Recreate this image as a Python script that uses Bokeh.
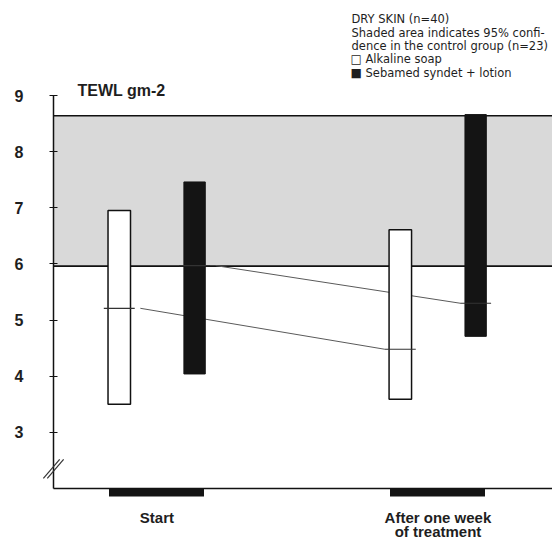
from bokeh.plotting import figure
from bokeh.models import Range1d, FixedTicker, BoxAnnotation, Span
from bokeh.core.properties import value
from bokeh.embed import file_html
from bokeh.resources import INLINE

# ---------------- data (TEWL, g m-2 h-1) ----------------
timepoints = ["Start", "After one week"]
tp_pos = [0, 1]
alk_top = [6.95, 6.61]       # Alkaline soap: upper end of range
alk_bottom = [3.50, 3.59]    # Alkaline soap: lower end of range
alk_mean = [5.21, 4.48]      # Alkaline soap: mean
seb_top = [7.46, 8.66]       # Sebamed syndet + lotion: upper end
seb_bottom = [4.04, 4.71]    # Sebamed syndet + lotion: lower end
seb_mean = [5.97, 5.30]      # Sebamed syndet + lotion: mean
ctrl_ci = [5.96, 8.64]       # 95% confidence band, control group
y_ticks = [3, 4, 5, 6, 7, 8, 9]
axis_break = 2.35
header_lines = ["DRY SKIN (n=40)",
                "Shaded area indicates 95% confi-",
                "dence in the control group (n=23)"]
legend_labels = ["Alkaline soap", "Sebamed syndet + lotion"]
legend_marks = ["\u25a1", "\u25a0"]

# ---------------- layout helpers ----------------
OFF = 0.134      # bar offset from time-point centre
BW = 0.08        # bar width
TICK = 0.055     # half width of the mean tick
FONT = "Liberation Sans"
HFONT = "DejaVu Sans"
INK = "#1e1e1e"
X0, X1, Y0, Y1 = -0.368, 1.4075, 2, 9
W, H = 552, 539
ML, MR, MT, MB = 53, 0, 95, 51
PX_X = (X1 - X0) / (W - ML - MR)   # data units per pixel
PX_Y = (Y1 - Y0) / (H - MT - MB)

p = figure(width=W, height=H, output_backend="svg", toolbar_location=None,
           x_range=Range1d(X0, X1), y_range=Range1d(Y0, Y1),
           min_border_left=ML, min_border_right=MR, min_border_top=MT,
           min_border_bottom=MB, background_fill_color="white",
           border_fill_color="white")
p.grid.visible = False
p.outline_line_color = None

# shaded 95% confidence band of control group
p.add_layout(BoxAnnotation(bottom=ctrl_ci[0], top=ctrl_ci[1], fill_color="#d9d9d9",
                           fill_alpha=1.0, line_color=None, level="underlay"))
for v in ctrl_ci:
    p.add_layout(Span(location=v, dimension="width", line_color="#111111",
                      line_width=1.6, level="underlay"))

# connecting lines between means
alk_x = [t - OFF for t in tp_pos]
seb_x = [t + OFF for t in tp_pos]
p.segment(x0=[alk_x[0] + 0.075], y0=[alk_mean[0]], x1=[alk_x[1] - TICK], y1=[alk_mean[1]],
          line_color="#5a5a5a", line_width=1)
p.segment(x0=[seb_x[0] + 0.075], y0=[seb_mean[0]], x1=[seb_x[1] - TICK], y1=[seb_mean[1]],
          line_color="#5a5a5a", line_width=1)

# bars
p.vbar(x=alk_x, width=BW, top=alk_top, bottom=alk_bottom,
       fill_color="white", line_color="#111111", line_width=1.5)
p.vbar(x=seb_x, width=BW - 0.004, top=seb_top, bottom=seb_bottom,
       fill_color="#141414", line_color="#141414", line_width=1)

# mean ticks
p.segment(x0=[x - TICK for x in alk_x], y0=alk_mean, x1=[x + TICK for x in alk_x],
          y1=alk_mean, line_color="#333333", line_width=1.2)
p.segment(x0=[x - TICK for x in seb_x], y0=seb_mean, x1=[x + TICK for x in seb_x],
          y1=seb_mean, line_color="#333333", line_width=1.2)

# y axis
ya = p.yaxis[0]
ya.ticker = FixedTicker(ticks=y_ticks)
ya.axis_line_width = 1.5
ya.axis_line_color = "#111111"
ya.major_tick_in = 4
ya.major_tick_out = 4
ya.major_tick_line_color = "#111111"
ya.minor_tick_line_color = None
ya.major_label_standoff = 26
ya.major_label_text_font = FONT
ya.major_label_text_font_style = "bold"
ya.major_label_text_font_size = "16px"
ya.major_label_text_color = INK

# x axis: baseline with black group markers under each time point
xa = p.xaxis[0]
xa.ticker = FixedTicker(ticks=tp_pos)
xa.major_label_overrides = {tp_pos[0]: timepoints[0], tp_pos[1]: timepoints[1]}
xa.axis_line_width = 1.5
xa.axis_line_color = "#111111"
xa.major_tick_in = 0
xa.major_tick_out = 8
xa.major_tick_line_width = 95
xa.major_tick_line_color = "#141414"
xa.minor_tick_line_color = None
xa.major_label_standoff = 12
xa.major_label_text_font = FONT
xa.major_label_text_font_style = "bold"
xa.major_label_text_font_size = "15px"
xa.major_label_text_color = INK

# texts drawn as overlay glyphs so they may sit outside the frame
def txt(x, y, t, size, bold=False, align="left", baseline="middle", font=FONT):
    p.text(x=[x], y=[y], text=[t], text_font=value(font), text_font_size=size,
           text_font_style="bold" if bold else "normal", text_color=INK,
           text_align=align, text_baseline=baseline, level="overlay")

txt(tp_pos[1], Y0 - 34 * PX_Y, "of treatment", "15px", bold=True,
    align="center", baseline="top")

# axis break mark
for dx in (-0.007, 0.007):
    p.segment(x0=[X0 + dx - 0.029], y0=[axis_break - 0.17], x1=[X0 + dx + 0.029],
              y1=[axis_break + 0.17], line_color="#333333", line_width=1.2, level="overlay")

# axis title
txt(X0 + 24 * PX_X, Y1 + 5 * PX_Y, "TEWL gm-2", "16px", bold=True)

# header text and legend
hx = X0 + 298 * PX_X
for line, off in zip(header_lines, [77, 63, 50]):
    txt(hx, Y1 + off * PX_Y, line, "11.5px", font=HFONT)

leg_y = [Y1 + 37 * PX_Y, Y1 + 23 * PX_Y]
for mark, lab, ly in zip(legend_marks, legend_labels, leg_y):
    txt(hx - 1 * PX_X, ly, mark, "12px", font=HFONT)
    txt(hx + 14 * PX_X, ly, lab, "11.5px", font=HFONT)

open("out.html", "w").write(file_html(p, INLINE))
